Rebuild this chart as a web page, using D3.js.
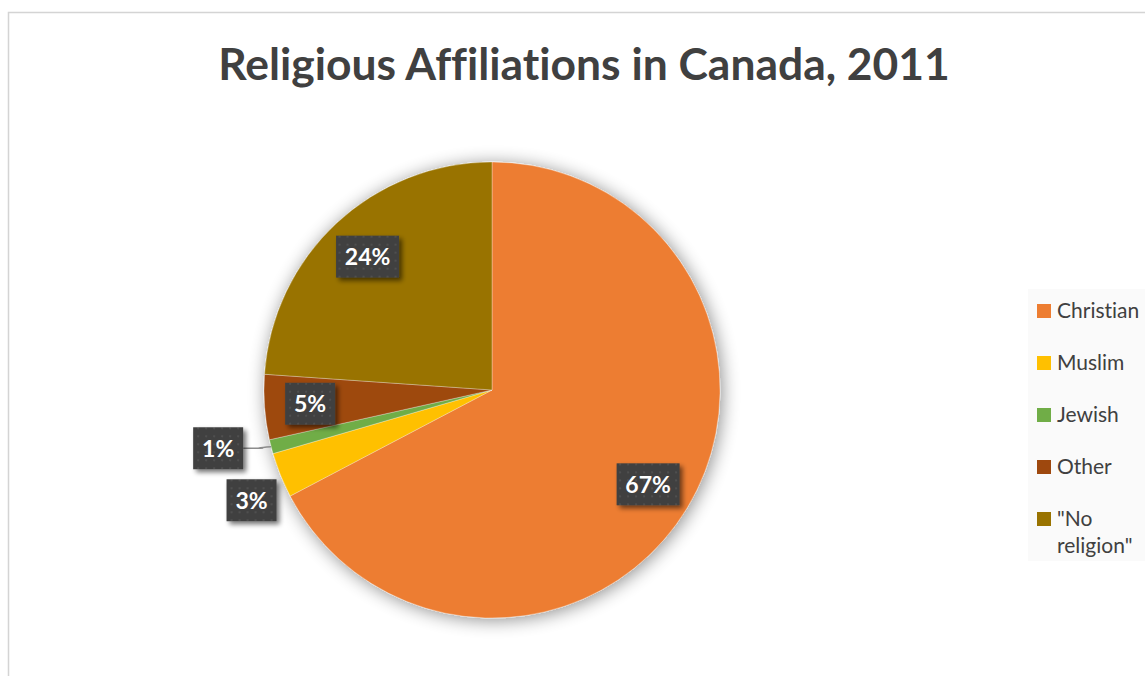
<!DOCTYPE html>
<html>
<head>
<meta charset="utf-8">
<script src="https://cdn.jsdelivr.net/npm/d3@7"></script>
<style>
  html, body { margin: 0; padding: 0; background: #ffffff; }
  svg { display: block; font-family: Lato, "Open Sans", sans-serif; font-variant-ligatures: none; font-feature-settings: "liga" 0, "clig" 0; }
</style>
</head>
<body>
<svg id="chart" width="1145" height="676"></svg>
<script>
// Religious affiliation shares, Canada 2011 (percent of population)
const categories = ["Christian", "Muslim", "Jewish", "Other", "\"No religion\""];
const shares = [67.3, 3.2, 1.0, 4.6, 23.9];
const colors = ["#ED7D31", "#FFC000", "#70AD47", "#9E480E", "#997300"];
const titleText = "Religious Affiliations in Canada, 2011";

const width = 1145, height = 676;
const svg = d3.select("#chart");
const defs = svg.append("defs");

// soft halo behind the pie
const glow = defs.append("filter").attr("id", "pieGlow")
  .attr("x", "-20%").attr("y", "-20%").attr("width", "140%").attr("height", "140%");
glow.append("feGaussianBlur").attr("in", "SourceAlpha").attr("stdDeviation", 9).attr("result", "blur");
glow.append("feOffset").attr("in", "blur").attr("dx", 2).attr("dy", 2).attr("result", "off");
glow.append("feComponentTransfer").attr("in", "off").attr("result", "soft")
  .append("feFuncA").attr("type", "linear").attr("slope", 0.45);
const gm = glow.append("feMerge");
gm.append("feMergeNode").attr("in", "soft");
gm.append("feMergeNode").attr("in", "SourceGraphic");

// drop shadow for the value callouts
const shadow = defs.append("filter").attr("id", "boxShadow")
  .attr("x", "-30%").attr("y", "-30%").attr("width", "170%").attr("height", "180%");
shadow.append("feGaussianBlur").attr("in", "SourceAlpha").attr("stdDeviation", 2.5).attr("result", "b");
shadow.append("feOffset").attr("in", "b").attr("dx", 3).attr("dy", 3).attr("result", "o");
shadow.append("feComponentTransfer").attr("in", "o").attr("result", "os")
  .append("feFuncA").attr("type", "linear").attr("slope", 0.55);
const sm = shadow.append("feMerge");
sm.append("feMergeNode").attr("in", "os");
sm.append("feMergeNode").attr("in", "SourceGraphic");

// dotted texture for the callout boxes
const pat = defs.append("pattern").attr("id", "dots")
  .attr("width", 8).attr("height", 8).attr("patternUnits", "userSpaceOnUse");
pat.append("rect").attr("width", 8).attr("height", 8).attr("fill", "#404040");
pat.append("rect").attr("x", 3).attr("y", 3).attr("width", 2).attr("height", 2).attr("fill", "#4f4f4f");

// chart frame
svg.append("rect")
  .attr("x", 8.5).attr("y", 12.5)
  .attr("width", width + 20).attr("height", height + 20)
  .attr("fill", "#ffffff").attr("stroke", "#d4d4d4").attr("stroke-width", 1.5);

// title
svg.append("text")
  .attr("x", 584).attr("y", 80)
  .attr("text-anchor", "middle")
  .attr("font-size", 44.4).attr("font-weight", 700)
  .attr("fill", "#404040")
  .text(titleText);

// pie
const cx = 492, cy = 390, R = 228;
const pie = d3.pie().sort(null).value(d => d)(shares);
const arc = d3.arc().innerRadius(0).outerRadius(R);

const g = svg.append("g").attr("transform", `translate(${cx},${cy})`);
g.append("g").attr("filter", "url(#pieGlow)")
  .selectAll("path").data(pie).join("path")
  .attr("d", arc)
  .attr("fill", (d, i) => colors[i])
  .attr("stroke", "#ffffff").attr("stroke-width", 0.6).attr("stroke-opacity", 0.5);

// value callouts: large slices inside, small slices just outside the rim
const fmt = v => Math.round(v) + "%";
const insideArc = d3.arc().innerRadius(R * 0.8).outerRadius(R * 0.8);
const boxH = 42, gap = 10, leaderLen = 28;
const placed = [];

pie.forEach((d, i) => {
  const label = fmt(d.data);
  const boxW = label.length > 2 ? 63 : 50;
  const mid = (d.startAngle + d.endAngle) / 2;
  const ex = Math.sin(mid) * R, ey = -Math.cos(mid) * R;
  let lx, ly, leader = false;

  if (d.data >= 4) {
    [lx, ly] = insideArc.centroid(d);
  } else {
    // the box corner nearest the slice sits on the rim
    const sx = Math.sign(ex) || 1, sy = Math.sign(ey) || 1;
    lx = ex + sx * (boxW / 2 + 4);
    ly = ey + sy * (boxH / 2 + 4);
    // if it collides with a previously placed outside box, lift it and use a leader
    const hit = placed.find(p => Math.abs(p.x - lx) < (p.w + boxW) / 2 && Math.abs(p.y - ly) < (boxH + gap));
    if (hit) {
      ly = hit.y - boxH - gap;
      lx = ex + sx * (leaderLen + boxW / 2);
      leader = true;
    }
    placed.push({ x: lx, y: ly, w: boxW });
  }

  if (leader) {
    const bx = lx - Math.sign(ex) * boxW / 2, by = ly;
    g.append("path")
      .attr("d", `M${bx},${by} L${(bx + ex) / 2 - Math.sign(ex) * 6},${by} Q${(bx + ex) / 2 + Math.sign(ex) * 6},${by} ${ex},${ey}`)
      .attr("fill", "none").attr("stroke", "#8c8c8c").attr("stroke-width", 1.5);
  }

  const lg = g.append("g").attr("transform", `translate(${lx},${ly})`);
  lg.append("rect")
    .attr("x", -boxW / 2).attr("y", -boxH / 2)
    .attr("width", boxW).attr("height", boxH)
    .attr("fill", "url(#dots)")
    .attr("filter", "url(#boxShadow)");
  lg.append("text")
    .attr("text-anchor", "middle").attr("dy", "0.36em")
    .attr("font-size", 23).attr("font-weight", 700)
    .attr("fill", "#ffffff")
    .text(label);
});

// legend
const legend = svg.append("g");
legend.append("rect")
  .attr("x", 1028).attr("y", 289).attr("width", 130).attr("height", 272)
  .attr("fill", "#fafafa");
const ly0 = 311, step = 52;
categories.forEach((c, i) => {
  const y = ly0 + i * step;
  legend.append("rect")
    .attr("x", 1037).attr("y", y - 7).attr("width", 14).attr("height", 14)
    .attr("fill", colors[i]);
  const words = c.split(" ");
  const t = legend.append("text")
    .attr("x", 1057).attr("y", y + 7)
    .attr("font-size", 21).attr("fill", "#404040");
  if (words.length > 1) {
    t.append("tspan").attr("x", 1057).text(words[0]);
    t.append("tspan").attr("x", 1057).attr("dy", 27).text(words.slice(1).join(" "));
  } else {
    t.text(c);
  }
});
</script>
</body>
</html>
